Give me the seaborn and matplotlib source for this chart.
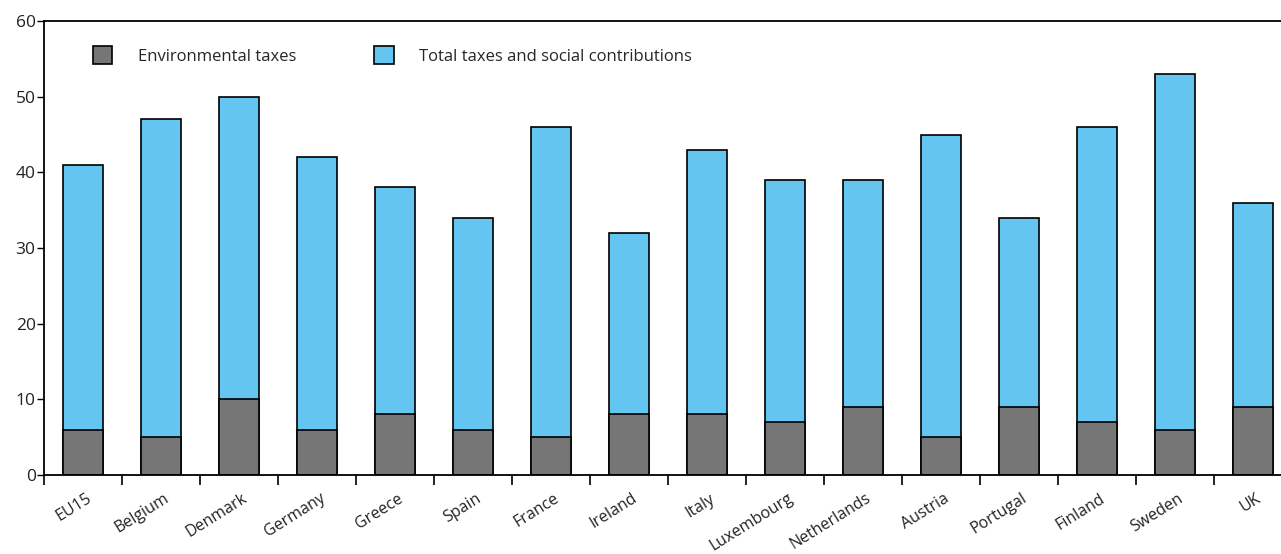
import matplotlib
matplotlib.use("Agg")
import matplotlib.pyplot as plt
from matplotlib.patches import Patch
import matplotlib.transforms as mtransforms
import seaborn as sns
import pandas as pd
import numpy as np

countries = ["EU15", "Belgium", "Denmark", "Germany", "Greece", "Spain", "France",
             "Ireland", "Italy", "Luxembourg", "Netherlands", "Austria", "Portugal",
             "Finland", "Sweden", "UK"]
total_taxes = [41, 47, 50, 42, 38, 34, 46, 32, 43, 39, 39, 45, 34, 46, 53, 36]
env_taxes = [6, 5, 10, 6, 8, 6, 5, 8, 8, 7, 9, 5, 9, 7, 6, 9]

BLUE = "#63C5F0"
GREY = "#767676"

sns.set_style("white")
plt.rcParams["font.family"] = ["Open Sans", "DejaVu Sans"]
plt.rcParams["font.size"] = 12

df = pd.DataFrame({"country": countries, "total": total_taxes, "env": env_taxes})

fig = plt.figure(figsize=(12.81, 5.54), dpi=100)
ax = fig.add_axes([44 / 1281, 1 - 475 / 554, 1248 / 1281, 454 / 554])

sns.barplot(data=df, x="country", y="total", order=countries, color=BLUE,
            width=0.51, edgecolor="black", linewidth=1.2, saturation=1, ax=ax)
sns.barplot(data=df, x="country", y="env", order=countries, color=GREY,
            width=0.51, edgecolor="black", linewidth=1.2, saturation=1, ax=ax)

ax.set_xlim(-0.5, len(countries) - 0.5)
ax.set_ylim(0, 60)
ax.set_yticks(np.arange(0, 61, 10))
ax.set_xlabel("")
ax.set_ylabel("")

for s in ["left", "bottom", "top"]:
    ax.spines[s].set_visible(True)
    ax.spines[s].set_color("black")
    ax.spines[s].set_linewidth(1.3)
ax.spines["right"].set_visible(False)

ax.tick_params(axis="y", which="major", direction="out", length=5, width=1,
               color="black", left=True, labelsize=12.5, pad=1, labelcolor="#222222")
ax.set_xticks(np.arange(len(countries)))
ax.set_xticklabels(countries, rotation=32, ha="right", va="center",
                   rotation_mode="anchor", fontsize=11.5, color="#222222")
ax.tick_params(axis="x", which="major", length=0, pad=16)
ax.set_xticks(np.arange(-0.5, len(countries), 1), minor=True)
ax.tick_params(axis="x", which="minor", direction="out", length=7, width=1.2,
               color="black", bottom=True)

offset = mtransforms.ScaledTranslation(7 / 100, 0, fig.dpi_scale_trans)
for lab in ax.get_xticklabels():
    lab.set_transform(lab.get_transform() + offset)

handles = [Patch(facecolor=GREY, edgecolor="black", linewidth=1.2, label="Environmental taxes"),
           Patch(facecolor=BLUE, edgecolor="black", linewidth=1.2,
                 label="Total taxes and social contributions")]
ax.legend(handles=handles, loc="upper left", bbox_to_anchor=(0.027, 0.977), ncol=2,
          frameon=False, handlelength=1.15, handleheight=1.25, handletextpad=1.55,
          columnspacing=4.7, fontsize=12)

fig.savefig("out.png", dpi=100)
